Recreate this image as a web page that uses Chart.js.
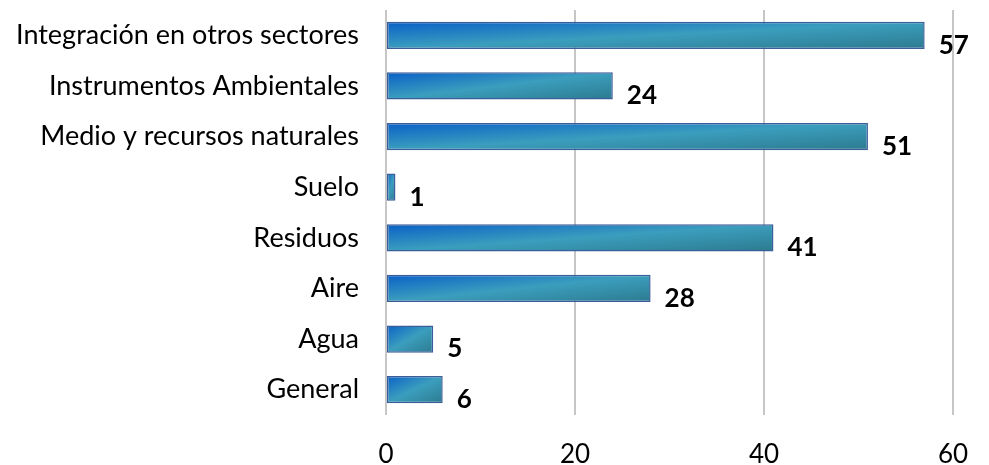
<!DOCTYPE html>
<html>
<head>
<meta charset="utf-8">
<script src="https://cdn.jsdelivr.net/npm/chart.js@4.4.0/dist/chart.umd.min.js"></script>
<style>
  html, body { margin: 0; padding: 0; background: #fff; }
</style>
</head>
<body>
<canvas id="chart" width="989" height="465"></canvas>
<script>
const categories = ["Integración en otros sectores", "Instrumentos Ambientales", "Medio y recursos naturales", "Suelo", "Residuos", "Aire", "Agua", "General"]
const values = [57, 24, 51, 1, 41, 28, 5, 6]
const xTicks = [0, 20, 40, 60]

const FONT = "Lato, 'Open Sans', sans-serif"
const CAT_PCT = 0.54

// diagonal gradient scaled to each bar (blue top-left -> teal -> darker teal bottom-right)
const barFill = (ctx) => {
    const chart = ctx.chart
    const x = chart.scales.x
    const y = chart.scales.y
    const fallback = '#2a86b0'
    if (!x || !y || ctx.type !== 'data') return fallback
    const h = y.height / categories.length * CAT_PCT
    const top = y.getPixelForValue(ctx.dataIndex) - h / 2
    const left = x.getPixelForValue(0)
    const w = x.getPixelForValue(values[ctx.dataIndex]) - left
    if (![h, top, left, w].every(Number.isFinite) || h <= 0 || w <= 0) return fallback
    const k = 2 / (1 / (w * w) + 1 / (h * h))
    const g = chart.ctx.createLinearGradient(left, top, left + k / w, top + k / h)
    g.addColorStop(0, '#0a60c8')
    g.addColorStop(0.5, '#3b9ebd')
    g.addColorStop(1, '#2c7a8f')
    return g
}

const valueLabels = {
    id: 'valueLabels',
    afterDatasetsDraw(chart) {
        const c = chart.ctx
        const meta = chart.getDatasetMeta(0)
        c.save()
        c.font = "bold 26px " + FONT
        c.fillStyle = '#000'
        c.textBaseline = 'middle'
        c.textAlign = 'left'
        meta.data.forEach((bar, i) => {
            c.fillText(String(values[i]), bar.x + 14, bar.y + 10)
        })
        c.restore()
    }
}

new Chart(document.getElementById('chart').getContext('2d'), {
    type: 'bar',
    data: {
        labels: categories,
        datasets: [{
            data: values,
            backgroundColor: barFill,
            borderColor: '#3b5d99',
            borderWidth: 1.5,
            borderSkipped: false,
            categoryPercentage: CAT_PCT,
            barPercentage: 1
        }]
    },
    options: {
        indexAxis: 'y',
        responsive: false,
        animation: false,
        layout: { padding: { top: 10, right: 36, left: 0, bottom: 0 } },
        plugins: {
            legend: { display: false },
            tooltip: { enabled: false }
        },
        scales: {
            x: {
                min: 0,
                max: 60,
                afterBuildTicks: (axis) => { axis.ticks = xTicks.map(v => ({ value: v })) },
                afterFit: (axis) => { axis.height = 50; axis.paddingLeft = 0; axis.paddingRight = 0 },
                grid: { color: '#c6c6c6', lineWidth: 2, drawTicks: false },
                border: { display: false },
                ticks: { color: '#000', font: { family: FONT, size: 26, lineHeight: 1 }, padding: 27 }
            },
            y: {
                grid: { display: false },
                border: { display: false },
                ticks: { color: '#000', font: { family: FONT, size: 27 }, padding: 19 },
                afterFit: (axis) => { axis.width = 386; axis.paddingTop = 0; axis.paddingBottom = 0 }
            }
        }
    },
    plugins: [valueLabels]
})
</script>
</body>
</html>
